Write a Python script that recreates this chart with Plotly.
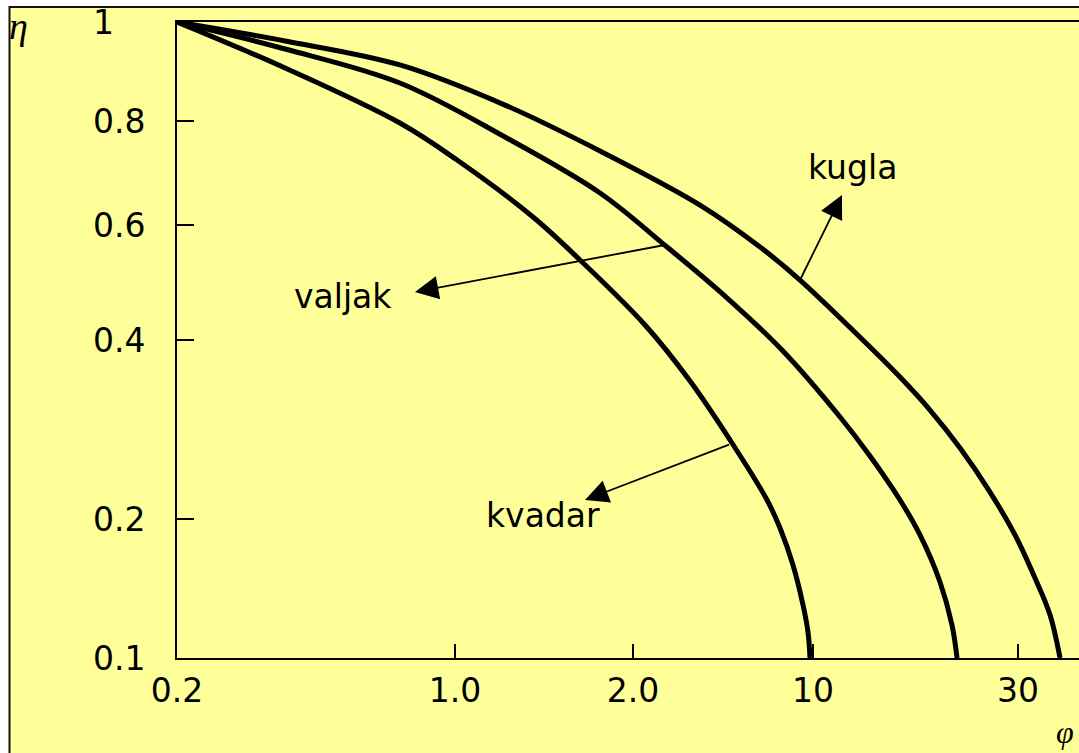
import numpy as np
import plotly.graph_objects as go

# Axis ticks (phi on the horizontal axis, eta on the vertical axis)
PHI_TICKS = [0.2, 1.0, 2.0, 10, 30]
PHI_LABELS = ["0.2", "1.0", "2.0", "10", "30"]
ETA_TICKS = [0.1, 0.2, 0.4, 0.6, 0.8, 1.0]
ETA_LABELS = ["0.1", "0.2", "0.4", "0.6", "0.8", "1"]

# Non-uniform scale: axis position of every tick (axis units)
PHI_POS = [0, 278, 456, 636, 841]
ETA_POS = [0, 139, 318, 433, 537, 636]
X_RANGE = [0, 902]
Y_RANGE = [0, 636]

# Efficiency curves eta(phi)
kvadar_phi = [0.2, 0.374, 0.727, 1.008, 1.355, 1.627, 2.227, 3.330,
              4.761, 6.630, 7.445, 8.361, 9.146, 9.563, 9.736]
kvadar_eta = [1.0, 0.9015, 0.7955, 0.7181, 0.6134, 0.5303, 0.4217, 0.3412,
              0.2716, 0.2153, 0.1912, 0.1590, 0.1302, 0.1138, 0.1]

valjak_phi = [0.2, 0.374, 0.727, 1.215, 1.759, 2.711, 4.552, 7.579,
              11.56, 13.57, 15.94, 17.74, 19.75, 21.06, 21.64]
valjak_eta = [1.0, 0.9409, 0.8715, 0.7653, 0.6556, 0.5552, 0.4671, 0.3848,
              0.2969, 0.2553, 0.2153, 0.1847, 0.1461, 0.1179, 0.1]

kugla_phi = [0.2, 0.374, 0.727, 1.215, 1.759, 3.640, 6.228, 8.903, 13.80,
             15.94, 18.72, 21.99, 25.82, 29.52, 32.86, 35.62, 37.58]
kugla_eta = [1.0, 0.9581, 0.9077, 0.8292, 0.7363, 0.6340, 0.5552, 0.4942, 0.3848,
             0.3465, 0.3050, 0.2633, 0.2220, 0.1847, 0.1490, 0.1239, 0.1]

# Curve labels: text position and arrow (tail on the curve -> head near the text)
LABELS = {
    "kugla":  dict(text=(12.33, 0.7026), tail=(8.903, 0.4942), head=(11.68, 0.6520)),
    "valjak": dict(text=(0.5229, 0.4671), tail=(2.663, 0.5592), head=(0.7933, 0.4737)),
    "kvadar": dict(text=(1.409, 0.2031), tail=(4.785, 0.2674), head=(1.659, 0.2153)),
}

YELLOW = "#FFFF99"
FONT = "DejaVu Sans"


def to_axis(vals, ticks, pos):
    """Map values onto the piecewise-logarithmic axis, extrapolating past the ends."""
    lv = np.log10(np.atleast_1d(np.asarray(vals, dtype=float)))
    lt = np.log10(np.asarray(ticks, dtype=float))
    p = np.asarray(pos, dtype=float)
    out = np.interp(lv, lt, p)
    hi = lv > lt[-1]
    out[hi] = p[-1] + (lv[hi] - lt[-1]) * (p[-1] - p[-2]) / (lt[-1] - lt[-2])
    lo = lv < lt[0]
    out[lo] = p[0] + (lv[lo] - lt[0]) * (p[1] - p[0]) / (lt[1] - lt[0])
    return out


def sx(v):
    return to_axis(v, PHI_TICKS, PHI_POS)


def sy(v):
    return to_axis(v, ETA_TICKS, ETA_POS)


fig = go.Figure()
for phi, eta in [(kvadar_phi, kvadar_eta), (valjak_phi, valjak_eta), (kugla_phi, kugla_eta)]:
    fig.add_trace(go.Scatter(
        x=sx(phi), y=sy(eta), mode="lines",
        line=dict(color="black", width=5, shape="spline", smoothing=1.0),
        hoverinfo="skip", showlegend=False,
    ))

annotations = []
for name, d in LABELS.items():
    annotations.append(dict(
        x=float(sx(d["text"][0])[0]), y=float(sy(d["text"][1])[0]), xref="x", yref="y",
        text=name, showarrow=False, xanchor="center", yanchor="middle",
        font=dict(family=FONT, size=33, color="black"),
    ))
    annotations.append(dict(
        x=float(sx(d["head"][0])[0]), y=float(sy(d["head"][1])[0]),
        ax=float(sx(d["tail"][0])[0]), ay=float(sy(d["tail"][1])[0]),
        xref="x", yref="y", axref="x", ayref="y", text="",
        showarrow=True, arrowhead=2, arrowsize=2.6, arrowwidth=1.8, arrowcolor="black",
        standoff=0, startstandoff=0,
    ))

# eta tick labels, left aligned
for val, lab in zip(ETA_TICKS, ETA_LABELS):
    annotations.append(dict(
        x=-0.0953, y=float(sy([val])[0]), xref="paper", yref="y",
        text=lab, showarrow=False, xanchor="left", yanchor="middle",
        font=dict(family=FONT, size=33, color="black"),
    ))

# axis symbols
annotations.append(dict(
    x=-0.1752, y=0.9937, xref="paper", yref="paper", text="η", showarrow=False,
    xanchor="center", yanchor="middle",
    font=dict(family="Liberation Serif", size=38, color="black", style="italic"),
))
annotations.append(dict(
    x=0.9845, y=-0.1164, xref="paper", yref="paper", text="φ", showarrow=False,
    xanchor="center", yanchor="middle",
    font=dict(family="Liberation Serif", size=32, color="black", style="italic"),
))

fig.update_layout(
    width=1079, height=753,
    margin=dict(l=177, r=0, t=22, b=95),
    paper_bgcolor="white", plot_bgcolor="rgba(0,0,0,0)",
    annotations=annotations,
    shapes=[dict(
        type="rect", xref="paper", yref="paper",
        x0=-0.1857, x1=1.1, y0=-0.3, y1=1.0236,
        fillcolor=YELLOW, line=dict(color="#111111", width=2), layer="below",
    )],
    xaxis=dict(
        range=X_RANGE, showgrid=False, zeroline=False,
        showline=True, linecolor="black", linewidth=2, mirror=True,
        ticks="inside", ticklen=14, tickwidth=2, tickcolor="black",
        tickvals=list(sx(PHI_TICKS)), ticktext=PHI_LABELS,
        tickfont=dict(family=FONT, size=33, color="black"),
        ticklabelstandoff=2,
    ),
    yaxis=dict(
        range=Y_RANGE, showgrid=False, zeroline=False,
        showline=True, linecolor="black", linewidth=2,
        ticks="inside", ticklen=17, tickwidth=2, tickcolor="black",
        tickvals=list(sy(ETA_TICKS)), showticklabels=False,
    ),
)

fig.write_html("out.html")
